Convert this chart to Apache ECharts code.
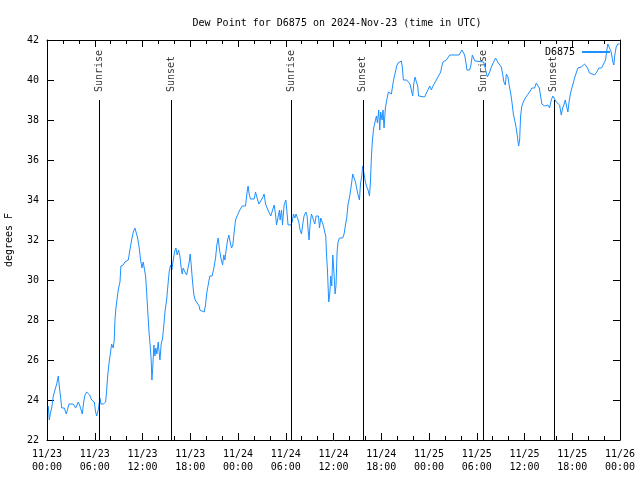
<!DOCTYPE html>
<html>
<head>
<meta charset="utf-8">
<script src="https://cdn.jsdelivr.net/npm/echarts@6/dist/echarts.min.js"></script>
<style>html,body{margin:0;padding:0;background:#fff;}#c{width:640px;height:480px;}</style>
</head>
<body>
<div id="c"></div>
<script>
// hours since 2024-11-23 00:00 UTC
var hours = [0.16,0.29,0.41,0.59,0.79,1.00,1.22,1.42,1.54,1.72,1.85,2.17,2.42,2.60,2.76,3.30,3.60,3.73,3.93,4.14,4.43,4.61,4.77,4.98,5.19,5.36,5.61,5.94,6.11,6.24,6.44,6.65,6.78,7.07,7.37,7.50,7.62,7.78,7.94,8.12,8.32,8.45,8.54,8.66,8.79,8.95,9.17,
9.29,9.58,9.79,10.01,10.21,10.42,10.63,10.84,11.05,11.21,11.39,11.59,11.76,11.93,12.09,12.22,12.39,12.52,12.68,12.84,12.97,13.09,13.18,13.27,13.43,13.56,13.68,13.81,13.97,14.19,14.35,14.53,14.69,14.85,15.03,15.23,15.35,15.53,15.69,15.86,16.03,16.20,16.36,16.53,16.70,16.86,16.99,17.11,17.33,17.54,17.74,17.87,17.99,18.12,18.29,18.46,18.62,18.87,19.12,
19.21,19.42,19.75,19.92,20.05,20.25,20.46,20.75,20.97,21.18,21.34,21.51,21.68,21.85,22.06,22.22,22.35,22.51,22.69,22.85,23.01,23.19,23.35,23.52,23.69,23.94,24.23,24.52,24.95,25.11,25.27,25.40,25.57,26.03,26.20,26.40,26.62,26.87,27.08,27.28,27.46,27.66,27.87,28.12,28.37,28.54,28.71,28.84,29.04,29.21,
29.29,29.47,29.59,29.79,30.01,30.13,30.29,30.63,30.80,30.97,31.14,31.30,31.48,31.64,31.80,31.98,32.14,32.30,32.52,32.68,32.81,32.93,33.06,33.23,33.48,33.65,33.81,33.99,34.11,34.24,34.40,34.56,34.74,34.90,35.03,35.12,35.24,35.32,35.40,35.53,35.66,35.78,35.91,36.07,36.20,36.32,36.45,36.57,36.75,37.16,37.33,37.50,37.66,37.83,38.00,38.08,38.26,38.42,38.58,38.76,38.96,39.08,39.26,39.39,39.55,39.67,39.84,40.01,40.14,40.34,40.52,40.64,40.77,40.89,41.05,41.22,41.39,41.52,41.68,41.81,41.93,42.10,42.22,42.35,42.52,42.69,42.90,43.10,43.28,43.44,43.60,43.78,43.94,44.11,44.32,44.53,44.66,44.78,45.20,45.45,45.61,45.79,45.95,46.08,46.24,46.42,46.58,46.70,47.46,47.67,47.87,48.09,48.30,48.50,48.71,48.93,49.13,49.34,49.47,49.59,49.76,50.18,50.38,50.60,51.77,51.94,52.14,52.32,52.48,52.69,52.77,53.11,53.27,53.45,53.61,53.77,54.87,55.12,55.33,55.62,55.83,56.12,56.37,56.53,56.71,56.87,57.09,57.25,57.41,57.59,57.72,57.92,58.09,58.26,58.42,58.60,58.76,58.92,59.10,59.26,59.39,59.51,59.67,59.85,60.10,60.35,60.64,60.93,61.27,61.48,61.68,61.86,62.02,62.18,62.36,62.52,62.74,62.94,63.15,63.36,63.57,63.78,63.99,64.20,64.41,64.62,64.79,64.95,65.12,65.29,65.45,65.63,65.79,65.95,66.13,66.29,66.50,66.70,66.92,67.13,67.33,67.55,67.76,67.92,68.17,68.39,68.80,69.09,69.34,69.68,69.93,70.18,70.35,70.47,70.68,70.90,71.10,71.23,71.35,71.52,71.72,71.94];
var dewPoint = [23.7,23.0,23.3,23.6,24.2,24.5,24.8,25.2,24.7,24.1,23.6,23.6,23.3,23.4,23.8,23.8,23.6,23.5,23.9,23.7,23.3,23.9,24.25,24.4,24.5,24.25,24.0,23.9,23.4,23.2,23.5,24.1,23.8,23.8,23.9,24.5,25.2,25.8,26.25,26.8,26.6,27.0,28.0,28.6,29.0,29.5,29.9,
30.7,30.75,30.9,31.0,31.0,31.5,32.0,32.4,32.6,32.6,32.1,31.6,31.0,30.6,30.9,31.0,30.2,29.4,28.3,27.3,26.7,26.0,25.0,25.5,26.75,26.2,26.6,26.3,26.9,26.0,26.8,27.1,27.8,28.5,29.0,29.9,30.4,30.75,30.5,31.0,31.4,31.6,31.25,31.5,31.2,30.6,30.3,30.6,30.4,30.25,30.25,30.9,31.3,30.75,29.9,29.25,29.0,28.9,28.7,
28.5,28.4,28.4,28.75,29.3,29.75,30.2,30.2,30.6,31.1,31.75,32.1,31.5,31.1,30.75,31.25,31.0,31.5,32.0,32.25,31.9,31.6,31.75,32.4,33.0,33.25,33.5,33.7,33.7,34.3,34.7,34.3,34.05,34.05,34.4,34.1,33.8,33.8,34.1,34.3,33.8,33.6,33.4,33.2,33.1,33.75,33.3,32.75,32.75,33.5,
33.0,33.5,32.75,33.75,34.0,33.5,32.75,32.75,32.9,33.3,33.1,33.3,33.2,32.9,32.5,32.3,32.8,33.2,33.4,33.2,32.5,32.0,32.8,33.3,33.25,32.8,33.2,33.3,33.2,32.6,33.1,33.0,32.7,32.4,32.2,31.3,30.5,29.7,28.9,29.3,30.2,29.7,31.25,30.3,29.3,29.75,31.4,31.9,32.1,32.1,32.3,32.75,33.1,33.8,34.1,34.3,34.8,35.3,35.1,34.9,34.9,34.25,34.0,34.8,35.2,35.7,35.3,34.9,34.7,34.5,34.2,34.9,36.2,37.0,37.6,37.9,38.2,37.85,38.5,37.5,38.4,38.0,38.5,37.6,38.6,39.0,39.4,39.5,39.3,39.75,40.1,40.4,40.7,40.85,40.95,40.95,40.6,40.0,40.0,39.95,39.8,39.7,39.2,39.8,40.15,39.9,39.7,39.2,39.15,39.35,39.5,39.7,39.5,39.7,39.85,40.0,40.15,40.25,40.4,40.65,40.9,41.0,41.1,41.25,41.25,41.35,41.5,41.5,41.25,40.75,40.5,40.5,40.75,41.25,41.1,40.95,40.9,40.5,40.15,40.4,40.65,40.9,41.1,41.0,40.85,40.8,40.65,40.3,39.9,39.75,40.3,40.15,39.7,39.35,38.9,38.3,38.0,37.7,37.2,36.7,37.0,38.2,38.7,38.9,39.1,39.2,39.4,39.6,39.6,39.85,39.9,39.6,39.2,38.8,38.75,38.7,38.8,38.75,38.6,39.0,39.2,39.1,38.9,38.85,38.75,38.25,38.6,38.75,39.0,39.1,38.4,39.0,39.35,39.6,39.85,40.1,40.35,40.6,40.6,40.65,40.75,40.8,40.85,40.6,40.35,40.25,40.25,40.4,40.6,40.6,40.65,41.0,41.5,41.8,41.8,41.4,40.9,40.75,41.25,41.65,41.8,41.8];

var sunEventHours = [6.57, 15.66, 30.67, 39.69, 54.78, 63.69];
var sunEventNames = ['Sunrise', 'Sunset', 'Sunrise', 'Sunset', 'Sunrise', 'Sunset'];
var sunLineTop = 39;
var yTicks = [22,24,26,28,30,32,34,36,38,40,42];

var FONT = 'DejaVu Sans Mono';
function fmtHour(h) {
  var day = 23 + Math.floor(h / 24);
  var hh = Math.round(h % 24);
  return '11/' + day + '\n' + (hh < 10 ? '0' : '') + hh + ':00';
}

var seriesData = hours.map(function (h, i) { return [h, dewPoint[i]]; });
var sunLines = sunEventHours.map(function (h) {
  return [{ coord: [h, 22] }, { coord: [h, sunLineTop] }];
});
var sunLabels = sunEventHours.map(function (h, i) {
  return { value: [h, sunLineTop], name: sunEventNames[i] };
});

var chart = echarts.init(document.getElementById('c'), null, { renderer: 'canvas' });
var axisCommon = {
  type: 'value', min: 0, max: 72, interval: 6,
  axisLine: { show: true, onZero: false, lineStyle: { color: '#000', width: 1 } },
  axisTick: { show: true, inside: true, length: 7, lineStyle: { color: '#000' } },
  minorTick: { show: true, splitNumber: 3, length: 4, lineStyle: { color: '#000' } },
  splitLine: { show: false }, minorSplitLine: { show: false }
};
chart.setOption({
  animation: false,
  backgroundColor: '#fff',
  title: {
    text: 'Dew Point for D6875 on 2024-Nov-23 (time in UTC)',
    left: 332, top: 13, textAlign: 'center',
    textStyle: { fontFamily: FONT, fontSize: 10, fontWeight: 'normal', color: '#000' }
  },
  legend: {
    right: 25, top: 42, align: 'right', itemWidth: 28, itemHeight: 2, itemGap: 0,
    textStyle: { fontFamily: FONT, fontSize: 10, color: '#000', padding: [0, 2, 0, 0] },
    data: [{ name: 'D6875', icon: 'rect' }]
  },
  grid: { left: 47, right: 20, top: 40, bottom: 40, containLabel: false, outerBoundsMode: 'none' },
  xAxis: [
    Object.assign({}, axisCommon, {
      position: 'bottom',
      axisLabel: { show: true, formatter: fmtHour, fontFamily: FONT, fontSize: 10, color: '#000', margin: 8, lineHeight: 13 }
    }),
    Object.assign({}, axisCommon, { position: 'top', axisLabel: { show: false } })
  ],
  yAxis: [
    {
      type: 'value', min: 22, max: 42, interval: 2, position: 'left',
      name: 'degrees F', nameLocation: 'middle', nameGap: 33, nameRotate: 90,
      nameTextStyle: { fontFamily: FONT, fontSize: 10, color: '#000' },
      axisLine: { show: true, onZero: false, lineStyle: { color: '#000', width: 1 } },
      axisTick: { show: true, inside: true, length: 7, lineStyle: { color: '#000' } },
      axisLabel: { fontFamily: FONT, fontSize: 10, color: '#000', margin: 8,
        customValues: yTicks },
      splitLine: { show: false }
    },
    {
      type: 'value', min: 22, max: 42, interval: 2, position: 'right',
      axisLine: { show: true, onZero: false, lineStyle: { color: '#000', width: 1 } },
      axisTick: { show: true, inside: true, length: 7, lineStyle: { color: '#000' } },
      axisLabel: { show: false },
      splitLine: { show: false }
    }
  ],
  series: [
    {
      name: 'D6875', type: 'line', data: seriesData, symbol: 'none', step: false,
      lineStyle: { color: '#1E90FF', width: 1 }, itemStyle: { color: '#1E90FF' },
      markLine: {
        silent: true, symbol: 'none', animation: false,
        lineStyle: { color: '#000', width: 1, type: 'solid' },
        label: { show: false },
        data: sunLines
      }
    },
    {
      name: 'sun', type: 'scatter', data: sunLabels, symbolSize: 0, silent: true,
      label: {
        show: true, formatter: function (p) { return p.name; },
        position: 'top', distance: 8, rotate: 90, align: 'left', verticalAlign: 'middle',
        fontFamily: FONT, fontSize: 10, color: '#000'
      }
    }
  ]
});
</script>
</body>
</html>
